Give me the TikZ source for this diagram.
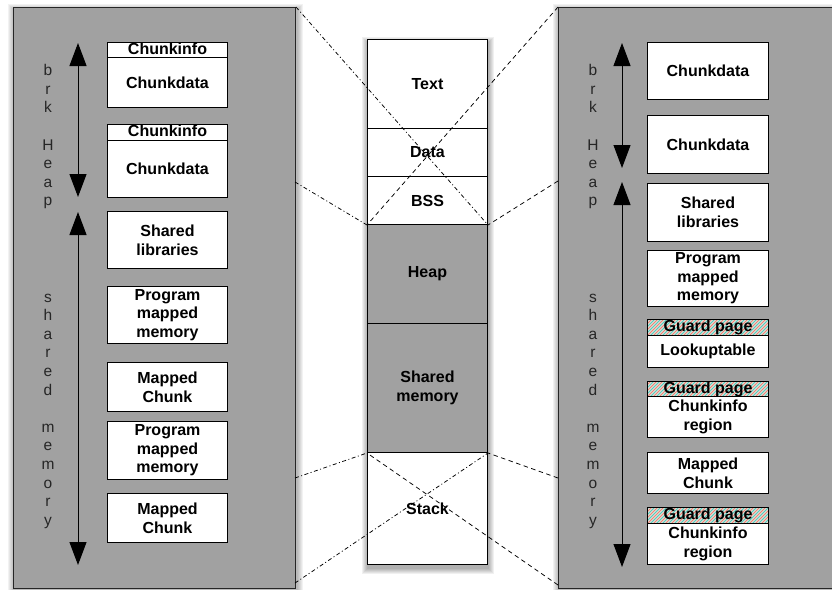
\documentclass[tikz,border=0pt]{standalone}
\usepackage{fontspec}
\setmainfont{Liberation Sans}
\usetikzlibrary{arrows.meta}
\definecolor{panelgray}{RGB}{161,161,161}
\definecolor{stripeR}{RGB}{226,138,122}
\definecolor{stripeT}{RGB}{96,198,182}
\begin{document}
\begin{tikzpicture}[x=1pt,y=-1pt,
  panel/.style={draw=black!85, line width=1pt, fill=panelgray, anchor=north west, inner sep=0pt},
  mbox/.style={draw=black, line width=1pt, fill=white, align=center, inner sep=0pt,
    font=\bfseries\fontsize{16}{18.6}\selectfont, anchor=north west},
  gbox/.style={mbox, fill=panelgray},
  hdr/.style={mbox, text height=11.5pt, text depth=3.4pt},
  guard/.style={hdr, path picture={
    \foreach \k in {0,...,28}{
      \draw[stripeR, line width=1.2pt] ([xshift=\k*6pt-30pt]path picture bounding box.south west) -- +(30pt,30pt);
      \draw[stripeT, line width=1.2pt] ([xshift=\k*6pt-27pt]path picture bounding box.south west) -- +(30pt,30pt);
    }}},
  letter/.style={font=\fontsize{15.5}{18.6}\selectfont, text=black!85, anchor=base, inner sep=0pt},
  dblarrow/.style={line width=1pt, {Triangle[width=17pt,length=23pt]}-{Triangle[width=17pt,length=23pt]}},
  ddot/.style={line width=0.75pt, dash pattern=on 4pt off 2.5pt on 1pt off 2.5pt},
  dsh/.style={line width=0.75pt, dash pattern=on 4.5pt off 3.5pt}
]
\useasboundingbox (0,0) rectangle (832,589);

% soft shadows
\foreach \i in {1,...,6}{
  \fill[black, opacity=0.05] (14-\i,10-\i) rectangle (297+\i,591+\i);
  \fill[black, opacity=0.05] (559-\i,10-\i) rectangle (840+\i,591+\i);
  \fill[black, opacity=0.06] (368-\i,43-\i) rectangle (488+\i,568+\i);
}

% panels
\node[panel, minimum width=282pt, minimum height=581pt] (LP) at (13,7) {};
\node[panel, minimum width=282pt, minimum height=581pt] (RP) at (558,7) {};

% center column
\node[mbox, minimum width=120pt, minimum height=89pt] (C1) at (367,39) {Text};
\node[mbox, minimum width=120pt, minimum height=48pt] (C2) at (367,128) {Data};
\node[mbox, minimum width=120pt, minimum height=48pt] (C3) at (367,176) {BSS};
\node[gbox, minimum width=120pt, minimum height=99pt] (C4) at (367,224) {Heap};
\node[gbox, minimum width=120pt, minimum height=129pt] (C5) at (367,323) {Shared\\memory};
\node[mbox, minimum width=120pt, minimum height=112pt] (C6) at (367,452) {Stack};

% connector lines
\coordinate (Lp2) at (295,182);
\coordinate (Lp3) at (295,478);
\coordinate (Lp4) at (295,583);
\coordinate (Rp2) at (558,181);
\coordinate (Rp3) at (558,478);
\coordinate (Rp4) at (558,585);
\draw[ddot] (LP.north east) -- (C3.south east);
\draw[ddot] (Lp2) -- (C3.south west);
\draw[ddot] (Lp3) -- (C5.south west);
\draw[ddot] (Lp4) -- (C5.south east);
\draw[dsh] (RP.north west) -- (C3.south west);
\draw[dsh] (Rp2) -- (C3.south east);
\draw[dsh] (Rp3) -- (C5.south east);
\draw[dsh] (Rp4) -- (C5.south west);

% left panel boxes
\node[hdr, minimum width=120pt, minimum height=15pt] (L1h) at (107,42) {Chunkinfo};
\node[mbox, minimum width=120pt, minimum height=50pt] (L1b) at (107,57) {Chunkdata};
\node[hdr, minimum width=120pt, minimum height=16pt] (L2h) at (107,124) {Chunkinfo};
\node[mbox, minimum width=120pt, minimum height=57pt] (L2b) at (107,140) {Chunkdata};
\node[mbox, minimum width=120pt, minimum height=57pt] (L3) at (107,211) {Shared\\libraries};
\node[mbox, minimum width=120pt, minimum height=57pt] (L4) at (107,286) {Program\\mapped\\memory};
\node[mbox, minimum width=120pt, minimum height=49pt] (L5) at (107,362) {Mapped\\Chunk};
\node[mbox, minimum width=120pt, minimum height=58pt] (L6) at (107,421) {Program\\mapped\\memory};
\node[mbox, minimum width=120pt, minimum height=49pt] (L7) at (107,493) {Mapped\\Chunk};

% right panel boxes
\node[mbox, minimum width=121pt, minimum height=57pt] (R1) at (647,42) {Chunkdata};
\node[mbox, minimum width=121pt, minimum height=58pt] (R2) at (647,115) {Chunkdata};
\node[mbox, minimum width=121pt, minimum height=58pt] (R3) at (647,183) {Shared\\libraries};
\node[mbox, minimum width=121pt, minimum height=56pt] (R4) at (647,250) {Program\\mapped\\memory};
\node[guard, minimum width=121pt, minimum height=16pt] (R5h) at (647,319) {Guard page};
\node[mbox, minimum width=121pt, minimum height=32pt] (R5b) at (647,335) {Lookuptable};
\node[guard, minimum width=121pt, minimum height=15pt] (R6h) at (647,381) {Guard page};
\node[mbox, minimum width=121pt, minimum height=41pt] (R6b) at (647,396) {Chunkinfo\\region};
\node[mbox, minimum width=121pt, minimum height=41pt] (R7) at (647,452) {Mapped\\Chunk};
\node[guard, minimum width=121pt, minimum height=16pt] (R8h) at (647,507) {Guard page};
\node[mbox, minimum width=121pt, minimum height=41pt] (R8b) at (647,523) {Chunkinfo\\region};

% arrows
\coordinate (LA1t) at (78,43);  \coordinate (LA1b) at (78,197);
\coordinate (LA2t) at (78,212); \coordinate (LA2b) at (78,565);
\coordinate (RA1t) at (622,43); \coordinate (RA1b) at (622,168);
\coordinate (RA2t) at (622,182); \coordinate (RA2b) at (622,567);
\draw[dblarrow] (LA1t) -- (LA1b);
\draw[dblarrow] (LA2t) -- (LA2b);
\draw[dblarrow] (RA1t) -- (RA1b);
\draw[dblarrow] (RA2t) -- (RA2b);

% vertical letters
\foreach \ch/\yy [count=\i] in {b/75.3, r/94, k/112.6, H/150, e/168.6, a/187.2, p/205.9}{
  \node[letter] (Lh\i) at (48,\yy) {\ch};
  \node[letter] (Rh\i) at (593,\yy) {\ch};
}
\foreach \ch/\yy [count=\i] in {s/302, h/320.6, a/339.2, r/357.8, e/376.4, d/395, m/432.2, e/450.8, m/469.4, o/488, r/506.6, y/525.2}{
  \node[letter] (Ls\i) at (48,\yy) {\ch};
  \node[letter] (Rs\i) at (593,\yy) {\ch};
}
\end{tikzpicture}
\end{document}
